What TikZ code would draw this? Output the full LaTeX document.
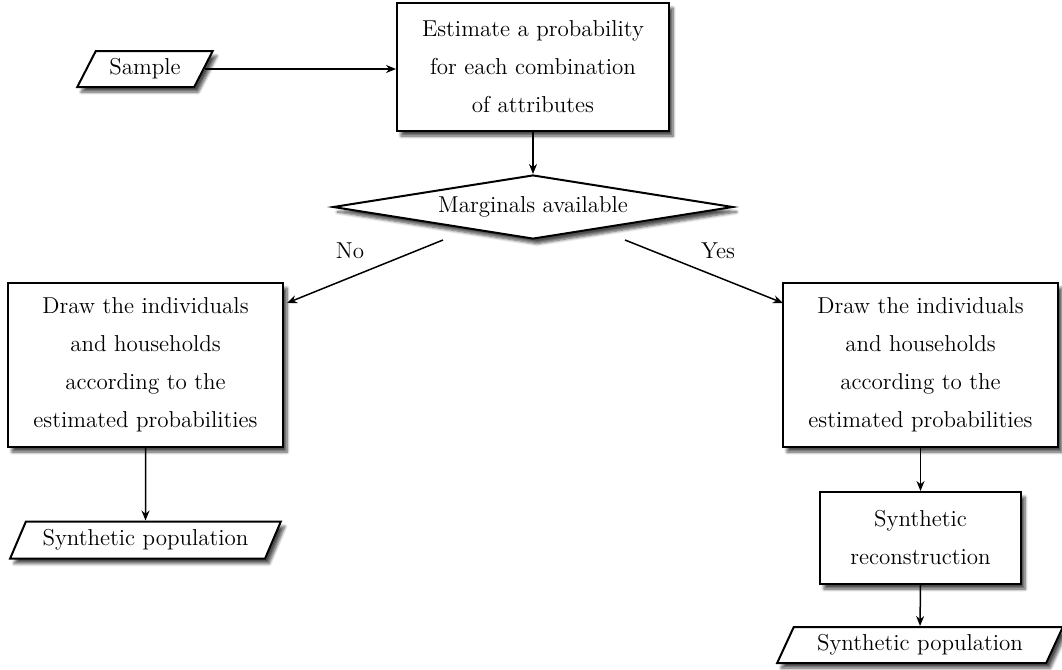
\documentclass[tikz,border=0pt]{standalone}
\usetikzlibrary{shapes.geometric,shadows.blur,arrows.meta}
\begin{document}
\begin{tikzpicture}[x=0.5pt,y=-0.5pt,
  font=\fontsize{11.5}{19}\selectfont,
  shad/.style={blur shadow={shadow xshift=2pt,shadow yshift=-2.5pt,shadow blur steps=6,shadow blur radius=1.5pt,shadow opacity=70}},
  box/.style={draw,line width=1pt,fill=white,align=center,inner sep=0pt,shad},
  para/.style={trapezium,trapezium left angle=57,trapezium right angle=123,trapezium stretches=true,draw,line width=1pt,fill=white,inner sep=0pt,shad},
  decide/.style={diamond,aspect=6.25,draw,line width=1pt,fill=white,inner sep=0pt,shad},
  arr/.style={-{Stealth[length=5pt,width=4pt]},line width=0.75pt}]
\useasboundingbox (0,0) rectangle (1062,670);

\node[para,minimum width=68pt,minimum height=18pt] (sample) at (145,69) {Sample};
\node[box,minimum width=136pt,minimum height=64pt] (est) at (533,67) {Estimate a probability\\for each combination\\of attributes};
\node[decide,minimum width=200pt,minimum height=32pt] (marg) at (533,207) {Marginals available};
\coordinate (noS) at (443,240);
\coordinate (yesS) at (625,240);
\coordinate (noE) at (287,303);
\coordinate (yesE) at (783,303);
\node (no) at (350,251) {No};
\node (yes) at (718,251) {Yes};

\node[box,minimum width=137.5pt,minimum height=82pt] (drawL) at (145.5,365) {Draw the individuals\\and households\\according to the\\estimated probabilities};
\node[box,minimum width=137.5pt,minimum height=82pt] (drawR) at (920.5,365) {Draw the individuals\\and households\\according to the\\estimated probabilities};
\node[para,minimum width=135.5pt,minimum height=18.5pt] (popL) at (145.5,540) {Synthetic population};
\node[box,minimum width=100.5pt,minimum height=46pt] (recon) at (920.5,538) {Synthetic\\reconstruction};
\node[para,minimum width=143pt,minimum height=18pt] (popR) at (920,645) {Synthetic population};

\draw[arr] (sample.east) -- (sample.east -| est.west);
\draw[arr] (est.south) -- (marg.north);
\draw[arr] (noS) -- (noE);
\draw[arr] (yesS) -- (yesE);
\draw[arr] (drawL.south) -- (popL.north);
\draw[arr] (drawR.south) -- (recon.north);
\draw[arr] (recon.south) -- (popR.north);
\end{tikzpicture}
\end{document}
